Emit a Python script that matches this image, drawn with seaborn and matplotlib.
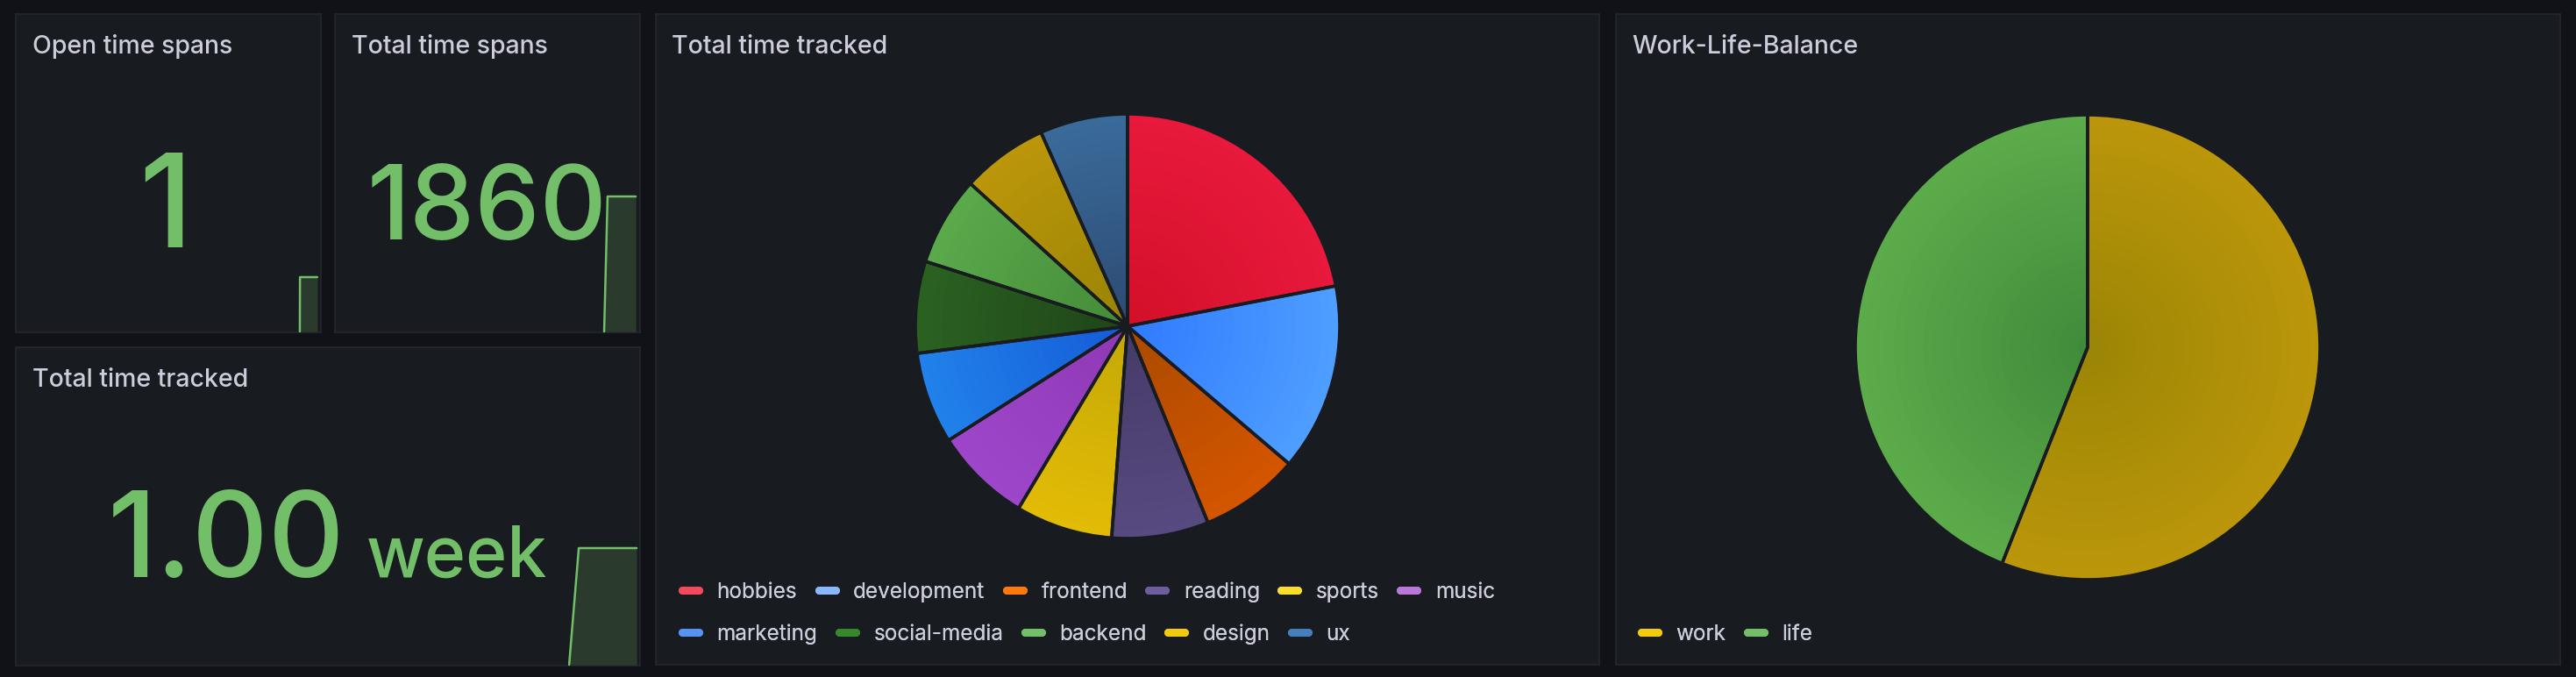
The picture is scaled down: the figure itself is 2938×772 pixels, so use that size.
import numpy as np
import matplotlib
matplotlib.use("Agg")
import matplotlib.pyplot as plt
from matplotlib.lines import Line2D
from matplotlib.colors import to_rgb
import seaborn as sns

W, H = 2938, 772

# stat panels
open_spans = 1
total_spans = 1860
tracked_value = "1.00"
tracked_unit = "week"

# sparkline trends: hour of the week -> value
open_trend_t = [156.8, 156.9, 166.5]
open_trend_v = [0, 1, 1]
spans_trend_t = [148.6, 150.5, 166.1]
spans_trend_v = [0, 1860, 1860]
tracked_trend_t = [149.1, 151.7, 167.3]
tracked_trend_v = [0, 168, 168]

# pie: share of tracked time per tag (%)
tags = ["hobbies", "development", "frontend", "reading", "sports", "music",
        "marketing", "social-media", "backend", "design", "ux"]
tag_share = [22.0, 14.3, 7.6, 7.4, 7.4, 7.4, 7.0, 7.0, 6.8, 6.6, 6.7]
tag_legend_colors = ["#f2495c", "#8ab8ff", "#ff780a", "#705da0", "#fade2a", "#b877d9",
                     "#5794f2", "#37872d", "#73bf69", "#f2cc0c", "#447ebc"]
tag_outer = ["#e8193c", "#4e9dff", "#d45500", "#574a80", "#e2bb06", "#9d46ca",
             "#2181ea", "#2a6121", "#5aa94a", "#bb960a", "#3a6a9a"]
tag_inner = ["#d20f28", "#2e79ff", "#a84a00", "#443a66", "#c4a806", "#8f38b4",
             "#145ad6", "#1e4418", "#448a38", "#988305", "#2c4a70"]

# work-life balance (%)
balance = ["work", "life"]
balance_share = [56.0, 44.0]
balance_legend_colors = ["#f2cc0c", "#73bf69"]
balance_outer = ["#bb960a", "#5cab4a"]
balance_inner = ["#9a8505", "#3f8a3a"]

page_bg = "#111217"
panel_bg = "#181b1f"
border = "#25272d"
title_col = "#ccccdc"
green = "#73bf69"

sns.set_theme(style="dark", rc={"axes.facecolor": panel_bg, "figure.facecolor": page_bg})
plt.rcParams["font.family"] = ["Inter", "DejaVu Sans"]


def frac(x0, y0, x1, y1):
    return [x0 / W, 1 - y1 / H, (x1 - x0) / W, (y1 - y0) / H]


fig = plt.figure(figsize=(W / 100, H / 100), dpi=100)


def panel(x0, y0, x1, y1, title, tx, ty):
    ax = fig.add_axes(frac(x0, y0, x1, y1))
    ax.set_facecolor(panel_bg)
    ax.set_xticks([])
    ax.set_yticks([])
    for s in ax.spines.values():
        s.set_color(border)
        s.set_linewidth(1.2)
    fig.text(tx / W, 1 - ty / H, title, color=title_col, fontsize=20.5,
             fontweight="medium", ha="left", va="baseline")
    return ax


panel(18, 16, 366, 379, "Open time spans", 37, 61)
panel(382, 16, 730, 379, "Total time spans", 401, 61)
panel(18, 396, 730, 759, "Total time tracked", 37, 441)
panel(748, 16, 1824, 758, "Total time tracked", 766, 61)
panel(1843, 16, 2920, 758, "Work-Life-Balance", 1861, 61)


def sparkline(rect, t, v):
    ax = fig.add_axes(frac(*rect))
    ax.patch.set_alpha(0)
    ax.axis("off")
    sns.lineplot(x=t, y=v, ax=ax, color=green, lw=1.8, estimator=None, sort=False)
    ax.fill_between(t, v, color=green, alpha=0.2, lw=0)
    for ln in ax.lines:
        ln.set_clip_on(False)
    ax.set_xlim(0, 168)
    ax.set_ylim(0, max(v))


sparkline((19, 316, 365, 378), open_trend_t, open_trend_v)
sparkline((383, 224, 729, 378), spans_trend_t, spans_trend_v)
sparkline((19, 625, 729, 758), tracked_trend_t, tracked_trend_v)

fig.text(189 / W, 1 - 282 / H, str(open_spans), color=green, fontsize=106,
         fontweight="medium", ha="center", va="baseline")
fig.text(555 / W, 1 - 273 / H, str(total_spans), color=green, fontsize=85,
         fontweight="medium", ha="center", va="baseline")
fig.text(393 / W, 1 - 658 / H, tracked_value, color=green, fontsize=97,
         fontweight="medium", ha="right", va="baseline")
fig.text(418 / W, 1 - 658 / H, tracked_unit, color=green, fontsize=58,
         fontweight="medium", ha="left", va="baseline")


def gradient_pie(cx, cy, r, values, outer, inner, rings=24):
    pad = r + 6
    ax = fig.add_axes(frac(cx - pad, cy - pad, cx + pad, cy + pad))
    ax.patch.set_alpha(0)
    o = np.array([to_rgb(c) for c in outer])
    i = np.array([to_rgb(c) for c in inner])
    for k in range(rings):
        rad = 1 - k / rings
        cols = i + (o - i) * rad
        ax.pie(values, radius=rad, colors=[tuple(c) for c in cols], startangle=90,
               counterclock=False, wedgeprops=dict(lw=0))
    ax.pie(values, radius=1, startangle=90, counterclock=False,
           wedgeprops=dict(fill=False, edgecolor=panel_bg, lw=2.6, joinstyle="round"))
    lim = pad / r
    ax.set_xlim(-lim, lim)
    ax.set_ylim(-lim, lim)
    ax.axis("off")


gradient_pie(1286, 372, 242, tag_share, tag_outer, tag_inner)
gradient_pie(2381, 396, 265, balance_share, balance_outer, balance_inner)


def legend_row(names, colors, x, y):
    handles = [Line2D([0], [0], color=c, lw=6.5, solid_capstyle="round") for c in colors]
    lg = fig.legend(handles, names, loc="center left", bbox_to_anchor=(x / W, 1 - y / H),
                    ncol=len(names), frameon=False, fontsize=17.5, handlelength=0.78,
                    handletextpad=0.85, columnspacing=1.0, borderpad=0, borderaxespad=0,
                    labelcolor=title_col)
    fig.add_artist(lg)


legend_row(tags[:6], tag_legend_colors[:6], 778, 675)
legend_row(tags[6:], tag_legend_colors[6:], 778, 723)
legend_row(balance, balance_legend_colors, 1872, 723)

fig.savefig("out.png", dpi=100, facecolor=page_bg)
